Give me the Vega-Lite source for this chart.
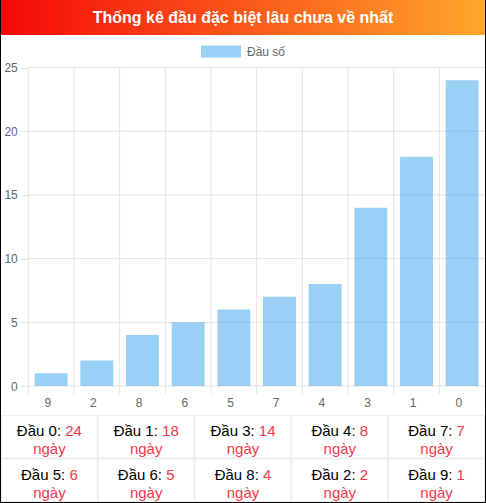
{
  "$schema": "https://vega.github.io/schema/vega-lite/v6.json",
  "background": "black",
  "padding": {"left": 1, "right": 1, "top": 0, "bottom": 1},
  "spacing": 0,
  "bounds": "flush",
  "config": {
    "view": {"stroke": null, "fill": "white"},
    "font": "Liberation Sans"
  },
  "datasets": {
    "heads": [
      {"dau": "9", "days": 1},
      {"dau": "2", "days": 2},
      {"dau": "8", "days": 4},
      {"dau": "6", "days": 5},
      {"dau": "5", "days": 6},
      {"dau": "7", "days": 7},
      {"dau": "4", "days": 8},
      {"dau": "3", "days": 14},
      {"dau": "1", "days": 18},
      {"dau": "0", "days": 24}
    ],
    "ticks": [{"v": 0}, {"v": 5}, {"v": 10}, {"v": 15}, {"v": 20}, {"v": 25}],
    "cells": [
      {"row": 1, "col": 1, "label": "Đầu 0:", "days": 24},
      {"row": 1, "col": 2, "label": "Đầu 1:", "days": 18},
      {"row": 1, "col": 3, "label": "Đầu 3:", "days": 14},
      {"row": 1, "col": 4, "label": "Đầu 4:", "days": 8},
      {"row": 1, "col": 5, "label": "Đầu 7:", "days": 7},
      {"row": 2, "col": 1, "label": "Đầu 5:", "days": 6},
      {"row": 2, "col": 2, "label": "Đầu 6:", "days": 5},
      {"row": 2, "col": 3, "label": "Đầu 8:", "days": 4},
      {"row": 2, "col": 4, "label": "Đầu 2:", "days": 2},
      {"row": 2, "col": 5, "label": "Đầu 9:", "days": 1}
    ]
  },
  "vconcat": [
    {
      "width": 484,
      "height": 35,
      "data": {"values": [{"title": "Thống kê đầu đặc biệt lâu chưa về nhất"}]},
      "layer": [
        {
          "mark": {
            "type": "rect",
            "fill": {"gradient": "linear", "x1": 0, "y1": 0, "x2": 1, "y2": 0,
              "stops": [{"offset": 0, "color": "#f50808"}, {"offset": 1, "color": "#ffa72b"}]}
          },
          "encoding": {}
        },
        {
          "mark": {"type": "text", "color": "white", "fontSize": 16, "fontWeight": "bold", "baseline": "middle", "align": "center", "font": "Liberation Sans"},
          "encoding": {"text": {"field": "title", "type": "nominal"}}
        }
      ]
    },
    {
      "width": 484,
      "height": 380,
      "layer": [
        {
          "data": {"name": "ticks"},
          "mark": {"type": "rule", "color": "#e3e3e3", "strokeWidth": 1},
          "encoding": {
            "y": {"field": "v", "type": "quantitative"},
            "x": {"datum": "9", "type": "nominal", "bandPosition": 0},
            "x2": {"datum": "0", "bandPosition": 1}
          }
        },
        {
          "data": {"name": "heads"},
          "mark": {"type": "rule", "color": "#e3e3e3", "strokeWidth": 1},
          "encoding": {
            "x": {"field": "dau", "type": "nominal", "bandPosition": 0},
            "y": {"datum": 25},
            "y2": {"datum": -0.63}
          }
        },
        {
          "data": {"name": "heads"},
          "mark": {"type": "bar", "width": {"band": 0.72}, "opacity": 0.5},
          "encoding": {
            "x": {
              "field": "dau", "type": "nominal", "sort": null,
              "scale": {"domain": ["9", "2", "8", "6", "5", "7", "4", "3", "1", "0"], "paddingInner": 0, "paddingOuter": 0.2989, "align": 1},
              "axis": {"title": null, "orient": "bottom", "offset": -29, "ticks": false, "domain": false, "grid": false, "labelAngle": 0, "labelColor": "#666", "labelFontSize": 12, "labelPadding": 16, "labelFont": "Liberation Sans"}
            },
            "y": {
              "field": "days", "type": "quantitative",
              "scale": {"domain": [-2.276, 27.551], "nice": false, "zero": false},
              "axis": {"values": [0, 5, 10, 15, 20, 25], "title": null, "offset": -27.3, "domain": false, "grid": false, "ticks": true, "tickSize": 8, "tickColor": "#e3e3e3", "labelColor": "#666", "labelFontSize": 12, "labelPadding": 3, "labelFont": "Liberation Sans"}
            },
            "y2": {"datum": 0},
            "color": {
              "datum": "Đầu số",
              "scale": {"range": ["#36a2eb"]},
              "legend": {"orient": "none", "legendX": 200, "legendY": 31.5, "title": null, "direction": "horizontal", "symbolType": "M-1,-0.3H1V0.3H-1Z", "symbolSize": 1600, "symbolStrokeWidth": 0, "symbolOpacity": 0.5, "labelColor": "#666", "labelFontSize": 12, "labelFont": "Liberation Sans", "labelOffset": 6, "padding": 0}
            }
          }
        }
      ]
    },
    {
      "width": 484,
      "height": 87,
      "data": {"name": "cells"},
      "encoding": {
        "x": {"field": "col", "type": "ordinal", "axis": null, "scale": {"paddingInner": 0, "paddingOuter": 0}},
        "y": {"field": "row", "type": "ordinal", "axis": null, "scale": {"paddingInner": 0, "paddingOuter": 0}}
      },
      "layer": [
        {"mark": {"type": "rect", "fill": "white", "stroke": "#eeeeee", "strokeWidth": 2, "clip": true}},
        {
          "transform": [{"filter": "datum.days >= 10"}],
          "mark": {"type": "text", "align": "right", "baseline": "middle", "dx": 11.67, "dy": -5.5, "fontSize": 15, "color": "black", "font": "Liberation Sans"},
          "encoding": {"text": {"field": "label", "type": "nominal"}}
        },
        {
          "transform": [{"filter": "datum.days < 10"}],
          "mark": {"type": "text", "align": "right", "baseline": "middle", "dx": 15.84, "dy": -5.5, "fontSize": 15, "color": "black", "font": "Liberation Sans"},
          "encoding": {"text": {"field": "label", "type": "nominal"}}
        },
        {
          "transform": [{"filter": "datum.days >= 10"}],
          "mark": {"type": "text", "align": "left", "baseline": "middle", "dx": 15.84, "dy": -5.5, "fontSize": 15, "color": "#f2394a", "font": "Liberation Sans"},
          "encoding": {"text": {"field": "days", "type": "nominal"}}
        },
        {
          "transform": [{"filter": "datum.days < 10"}],
          "mark": {"type": "text", "align": "left", "baseline": "middle", "dx": 20.01, "dy": -5.5, "fontSize": 15, "color": "#f2394a", "font": "Liberation Sans"},
          "encoding": {"text": {"field": "days", "type": "nominal"}}
        },
        {
          "mark": {"type": "text", "align": "center", "baseline": "middle", "dy": 12.5, "fontSize": 15, "color": "#f2394a", "font": "Liberation Sans"},
          "encoding": {"text": {"value": "ngày"}}
        }
      ]
    }
  ]
}
